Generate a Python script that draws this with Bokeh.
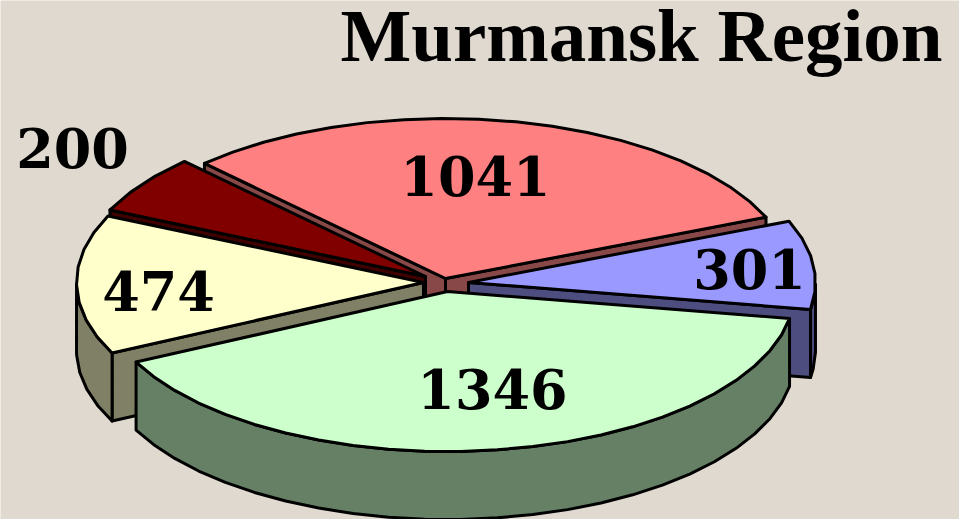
import numpy as np
from bokeh.plotting import figure
from bokeh.models import Range1d
from bokeh.core.properties import value
from bokeh.embed import file_html
from bokeh.resources import INLINE

# data, in pie order (clockwise from the top-left edge of the red slice)
values = [1041, 301, 1346, 474, 200]
labels = ["1041", "301", "1346", "474", "200"]
title = "Murmansk Region"

# styles
top_colors = ["#FF8080", "#9999FF", "#CCFFCC", "#FFFFCC", "#800000"]
wall_colors = ["#884848", "#4D4D80", "#668066", "#808066", "#400000"]
bg = "#E0D9CF"

# layout (window pixels)
W, H = 959, 519
RX, RY, DEPTH = 347, 160, 68
START = 134.0
centers = [(445, 278), (468, 282), (447, 291), (423, 282), (425, 276)]
label_pos = [(475, 175), (749, 268), (492, 388), (158, 290), (72, 147)]
draw_order = [0, 4, 1, 3, 2]  # back to front

p = figure(width=W, height=H, output_backend="svg",
           toolbar_location=None, min_border=0,
           x_range=Range1d(0, W), y_range=Range1d(H, 0),
           background_fill_color=bg, border_fill_color=bg, outline_line_color=None)
p.axis.visible = False
p.grid.visible = False

# slice angles from the values
fr = np.array(values, float) / sum(values)
edges = START - np.concatenate([[0], np.cumsum(fr)]) * 360


def pt(c, a, dz=0):
    r = np.radians(a)
    return c[0] + RX * np.cos(r), c[1] - RY * np.sin(r) + dz


def arc(a0, a1, step=6.0):
    n = max(2, int(abs(a1 - a0) / step) + 1)
    return np.linspace(a0, a1, n)


def poly(pts, fill):
    xs, ys = zip(*pts)
    p.patch(list(xs), list(ys), fill_color=fill, line_color="black",
            line_width=3, line_join="round")


def cut_face(c, a, fill):
    e = pt(c, a)
    poly([c, e, (e[0], e[1] + DEPTH), (c[0], c[1] + DEPTH)], fill)


for i in draw_order:
    c = centers[i]
    hi, lo = edges[i], edges[i + 1]
    # cut faces turned towards the viewer
    if np.cos(np.radians(hi)) < 0:
        cut_face(c, hi, wall_colors[i])
    if np.cos(np.radians(lo)) > 0:
        cut_face(c, lo, wall_colors[i])
    # outer wall: the part of the rim on the near side
    near = [a for a in arc(hi, lo, 1.0) if np.sin(np.radians(a)) <= 0]
    if len(near) > 1:
        near = near[::6] + [near[-1]]
        upper = [pt(c, a) for a in near]
        lower = [pt(c, a, DEPTH) for a in near]
        poly(upper + lower[::-1], wall_colors[i])
    poly([c] + [pt(c, a) for a in arc(hi, lo)], top_colors[i])

xs, ys = zip(*label_pos)
p.text(list(xs), list(ys), text=labels, text_font=value("DejaVu Serif"),
       text_font_style="bold", text_font_size="54px", text_color="black",
       text_align="center", text_baseline="middle")
p.text([641], [35], text=[title], text_font=value("Liberation Serif"),
       text_font_style="bold", text_font_size="75px", text_color="black",
       text_align="center", text_baseline="alphabetic")

open("out.html", "w").write(file_html(p, INLINE))
